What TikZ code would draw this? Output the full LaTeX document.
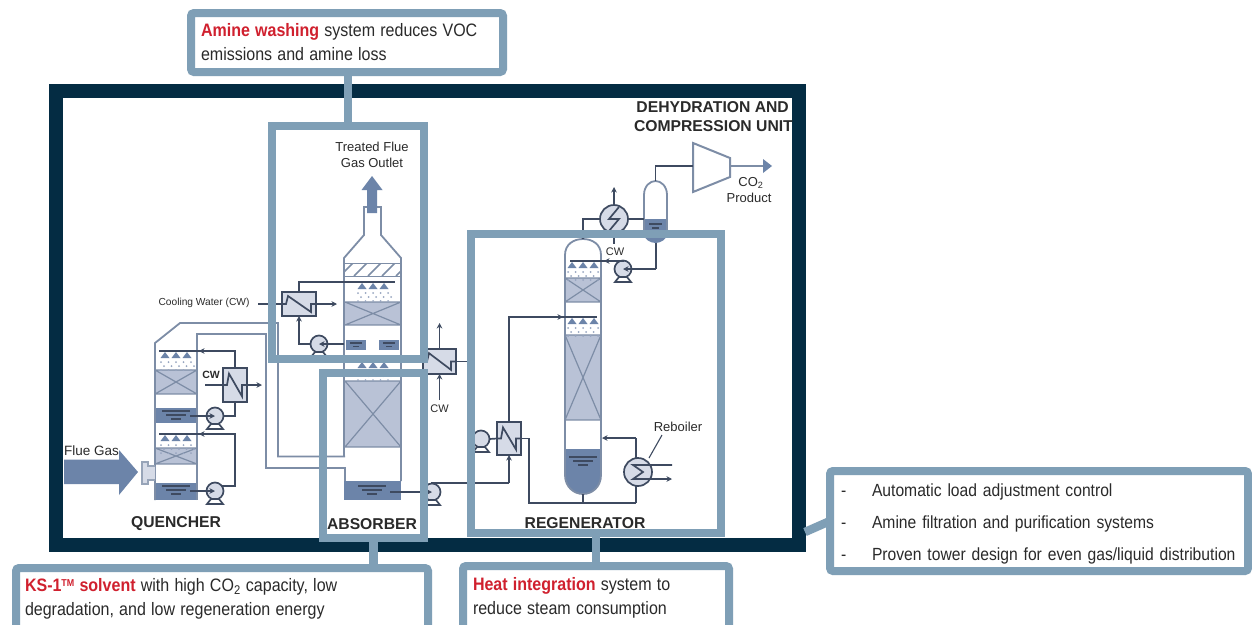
\documentclass[tikz,border=0pt]{standalone}
\usepackage{fontspec}
\setmainfont{Liberation Sans}
\newfontfamily\callfont[FakeStretch=0.89]{Liberation Sans}
\newcommand\tightwords{\spaceskip=5.2pt\relax}
\usetikzlibrary{arrows.meta}
\definecolor{framec}{HTML}{042C43}
\definecolor{tealc}{HTML}{7F9FB6}
\definecolor{packc}{HTML}{B9C2D6}
\definecolor{sumpc}{HTML}{6C84A9}
\definecolor{pipec}{HTML}{3E4A60}
\definecolor{gasc}{HTML}{7D8DA6}
\definecolor{hxc}{HTML}{D6DBE7}
\definecolor{redc}{HTML}{D0202E}
\definecolor{dropc}{HTML}{97A5C0}
\definecolor{textc}{HTML}{2A2A2A}
\tikzset{
  x=1pt,y=-1pt,
  pipe/.style={draw=pipec,line width=1.7pt,line join=miter},
  gas/.style={draw=gasc,line width=1.8pt,line join=miter},
  flow/.style={pipe,-{Stealth[length=5.5pt,width=5.5pt]}},
  hxbox/.style={draw=pipec,line width=1.7pt,fill=hxc,rectangle,inner sep=0pt,outer sep=0pt},
  pumpbox/.style={draw=pipec,line width=1.7pt,fill=hxc,circle,minimum size=17pt,inner sep=0pt,outer sep=0pt},
  reach/.style={draw=tealc,line width=8pt,rectangle,inner sep=0pt,outer sep=0pt},
  tie/.style={draw=tealc,line width=8.5pt},
  callout/.style={draw=tealc,line width=8pt,rectangle,rounded corners=3pt,fill=white,outer sep=0pt,inner ysep=0pt,align=left,text=textc},
  calltext/.style={font=\callfont\fontsize{18}{24}\selectfont},
  unitlabel/.style={font=\bfseries\fontsize{15.7}{19}\selectfont,text=textc,inner sep=0pt,align=center},
  smalllabel/.style={font=\fontsize{13}{16}\selectfont,text=textc,inner sep=0pt,align=center},
  cwlabel/.style={font=\fontsize{11}{13}\selectfont,text=textc,inner sep=0pt},
}
\newcommand\packing[4]{%
  \fill[packc] (#1,#2) rectangle (#3,#4);
  \draw[gas,line width=1.2pt] (#1,#2) -- (#3,#4) (#1,#4) -- (#3,#2) (#1,#2) -- (#3,#2) (#1,#4) -- (#3,#4);}
\newcommand\sumplines[2]{%
  \draw[pipec,line width=1.3pt] ({#1-14},#2) -- ({#1+14},#2) ({#1-10},{#2+4}) -- ({#1+10},{#2+4}) ({#1-5},{#2+8}) -- ({#1+5},{#2+8});}
\newcommand\spray[2]{%
  \foreach \dx in {-11,0,11} \fill[sumpc] ({#1+\dx-4.5},{#2+7}) -- ({#1+\dx},{#2+1}) -- ({#1+\dx+4.5},{#2+7}) -- cycle;
  \foreach \dx in {-15,-7.5,0,7.5,15} {\fill[dropc] ({#1+\dx},{#2+11}) circle[radius=1];\fill[dropc] ({#1+\dx+3},{#2+15}) circle[radius=1];\fill[dropc] ({#1+\dx},{#2+19}) circle[radius=1];}}
\newcommand\pumpat[3]{%
  \node[pumpbox] (#1) at (#2,#3) {};
  \draw[pipe,fill=white] ({#2-8},{#3+13}) -- ({#2-4},{#3+8}) -- ({#2+4},{#3+8}) -- ({#2+8},{#3+13}) -- cycle;}
\newcommand\hxat[5]{%
  \node[hxbox,minimum width=#4pt,minimum height=#5pt] (#1) at (#2,#3) {};
  \draw[pipe] ({#2-#4/2},#3) -- ({#2-#4/2+4},#3) -- ({#2-#4/2+6},{#3-#5/3}) -- ({#2+#4/2-5},{#3+#5/3}) -- ({#2+#4/2-5},#3) -- ({#2+#4/2},#3);}
\begin{document}
\begin{tikzpicture}
\useasboundingbox (0,0) rectangle (1252,624);
\clip (0,0) rectangle (1252,624);
\fill[white] (0,0) rectangle (1252,624);
% frame
\node[draw=framec,line width=14pt,rectangle,minimum width=743pt,minimum height=453.5pt,inner sep=0pt,outer sep=0pt] (frame) at (427.5,317.75) {};

% ---------- QUENCHER
\packing{155}{370}{197}{394}
\packing{155}{448}{197}{464}
\fill[sumpc] (155,408) rectangle (197,423);
\fill[sumpc] (155,483) rectangle (197,500);
\sumplines{176}{411}
\sumplines{176}{486}
\spray{176}{351}
\spray{176}{434}
\draw[gas] (155,500) -- (155,343) -- (180,323) -- (278,323) -- (278,456.5) -- (345,456.5);
\draw[gas] (197,500) -- (197,334) -- (266,334) -- (266,468) -- (345,468) -- (345,481);
\pumpat{pq1}{215}{416}
\pumpat{pq2}{215}{491}
\hxat{hxq}{235}{385}{24}{34}
\draw[flow] (190,416) -- (pq1.center);
\draw[flow] (190,491) -- (pq2.center);
\draw[pipe] (pq1.east) -| (hxq.south);
\draw[pipe] (hxq.north) |- (159,351);
\draw[flow] (205,351) -- (199,351);
\draw[pipe] (222,486) -| (235,434) -- (159,434);
\draw[flow] (205,434) -- (199,434);
\draw[pipe] (205,385) -- (hxq.west);
\draw[flow] (hxq.east) -- (262,385);
\node[cwlabel,font=\fontsize{10.5}{12}\selectfont\bfseries] (cwq) at (211,375) {CW};
% flue gas arrow and flange
\draw[gasc!80!white,line width=1.5pt,fill=hxc] (155,466) -- (148,466) -- (148,462) -- (142,462) -- (142,484) -- (148,484) -- (148,480) -- (155,480);
\fill[sumpc] (64,459.5) -- (119,459.5) -- (119,450) -- (138,472) -- (119,495) -- (119,484) -- (64,484) -- cycle;
\node[smalllabel,font=\fontsize{13.5}{16}\selectfont,anchor=west] (fluegas) at (64,451) {Flue Gas};
\node[unitlabel] (quencher) at (176,524) {QUENCHER};

% ---------- ABSORBER
\packing{345}{302}{401}{325}
\packing{345}{381}{401}{447}
\draw[gas,line width=1pt,fill=white] (344,263) rectangle (401,276);
\begin{scope}
\clip (344,263) rectangle (401,276);
\foreach \hx in {340,354,368,382,396} \draw[gas,line width=1.7pt] (\hx,276) -- ({\hx+13},263);
\end{scope}
\fill[sumpc] (346,340) rectangle (366,350);
\fill[sumpc] (379,340) rectangle (399,350);
\draw[pipec,line width=1.2pt] (350,343) -- (362,343) (353,346.5) -- (359,346.5) (383,343) -- (395,343) (386,346.5) -- (392,346.5);
\fill[sumpc] (344,481) rectangle (401,500);
\sumplines{372}{486}
\spray{373}{282}
\spray{373}{361}
\draw[gas] (344,456.5) -- (344,258) -- (364,235) -- (364,207) -- (381,207) -- (381,235) -- (401,258) -- (401,481);
\fill[sumpc] (367,213) -- (367,190) -- (361.5,190) -- (372,176) -- (382.5,190) -- (377,190) -- (377,213) -- cycle;
\node[smalllabel] (treated) at (372,155) {Treated Flue\\[-0.5pt]Gas Outlet};
\node[cwlabel,font=\fontsize{10.2}{12}\selectfont] (coolwater) at (204,303) {Cooling Water (CW)};
\pumpat{pw}{319}{344}
\hxat{hxw}{299}{304}{34}{24}
\draw[pipe] (hxw.north) -- (299,282) -- (395,282);
\draw[flow] (pw.center) ++(25,0) -- (pw.center);
\draw[flow] (pw.west) -| (hxw.south);
\draw[pipe] (258,304) -- (hxw.west);
\draw[flow] (hxw.east) -- (337,304);
% cross exchanger
\hxat{hxc1}{439.5}{361.5}{33}{25}
\coordinate (cwtop) at (439.5,323);
\coordinate (cwbot) at (439.5,400);
\draw[flow] (hxc1.north) -- (cwtop);
\draw[flow] (cwbot) -- (hxc1.south);
\node[cwlabel] (cwx) at (439.5,409) {CW};
\draw[pipe] (hxc1.east) -- (472,361.5);
% rich pump and line
\pumpat{prich}{432}{492}
\draw[flow] (390,492) -- (prich.center);
\node[unitlabel] (absorber) at (372,524) {ABSORBER};

% ---------- REGENERATOR
\fill[sumpc] (565,449) -- (601,449) -- (601,475) .. controls (601,487) and (592,494) .. (583,494) .. controls (574,494) and (565,487) .. (565,475) -- cycle;
\packing{565}{278}{601}{302}
\packing{565}{335}{601}{420}
\sumplines{583}{457}
\spray{583}{261}
\spray{583}{317}
\draw[gas] (565,255) .. controls (565,244) and (574,239) .. (583,239) .. controls (592,239) and (601,244) .. (601,255) -- (601,475) .. controls (601,487) and (592,494) .. (583,494) .. controls (574,494) and (565,487) .. (565,475) -- cycle;
\pumpat{pr}{623}{269}
\pumpat{prl}{481}{439}
\hxat{hxr}{509}{438.5}{24}{33}
\draw[pipe] (prich.north) |- (509,483);
\draw[flow] (509,483) -- (hxr.south);
\draw[pipe] (prl.east) -- (hxr.west);
\draw[pipe] (hxr.north) |- (597,317);
\draw[flow] (553,317) -- (563,317);
\draw[pipe] (hxr.east) -- (529,438.5) |- (636,503);
\draw[pipe] (583,494) -- (583,503);
\node[hxbox,circle,minimum size=28pt] (reb) at (638,472) {};
\draw[pipe] (636,503) -- (636,486);
\draw[pipe] (636,458) -- (636,438);
\draw[flow] (636,438) -- (602,438);
\coordinate (rebin) at (672,465);
\coordinate (rebout) at (672,479);
\draw[pipe] (rebin) -- (633,465) -- (643,472) -- (633,479) -- (655,479);
\draw[flow] (650,479) -- (rebout);
\node[smalllabel] (rebl) at (678,427) {Reboiler};
\draw[pipe,line width=1.1pt] (649,458) -- (662,435);
\node[unitlabel] (regen) at (585,523) {REGENERATOR};

% ---------- DEHYDRATION
\fill[sumpc] (644,219) -- (667,219) -- (667,234) .. controls (667,239) and (661,243) .. (655.5,243) .. controls (650,243) and (644,239) .. (644,234) -- cycle;
\draw[pipec,line width=1.2pt] (649,224) -- (662,224) (652,228) -- (659,228);
\draw[gas] (644,234) -- (644,195) .. controls (644,186) and (650,181) .. (655.5,181) .. controls (661,181) and (667,186) .. (667,195) -- (667,234);
\node[hxbox,circle,minimum size=28pt,fill=hxc] (cond) at (614,219) {};
\draw[pipe] (619,207) -- (609,219) -- (619,219) -- (609,231);
\draw[pipe] (583,239) -- (583,219) -- (cond.west);
\draw[pipe] (cond.east) -- (644,219);
\draw[flow] (cond.north) -- (614,187);
\draw[pipe] (cond.south) -- (614,244);
\node[cwlabel] (cwc) at (615,252) {CW};
\draw[pipe] (656,243) -- (656,269);
\draw[flow] (656,269) -- (pr.center);
\draw[pipe] (pr.north) -- (623,261) -- (570,261);
\draw[flow] (612,261) -- (604,261);
\coordinate (comp) at (693,166);
\draw[gas,line width=2pt,fill=white] (693,143) -- (730,158) -- (730,177) -- (693,192) -- cycle;
\draw[pipe] (655.5,181) -- (655.5,166) -- (comp);
\draw[gas,line width=2pt] (730,166) -- (763,166);
\fill[sumpc] (763,159) -- (772,166) -- (763,173) -- cycle;
\node[smalllabel] (co2) at (751,183) {CO\textsubscript{2}};
\node[smalllabel] (product) at (749,198) {Product};
\node[unitlabel,anchor=east] (dehy1) at (789,107) {DEHYDRATION AND};
\node[unitlabel,anchor=east] (dehy2) at (793,126) {COMPRESSION UNIT};

% ---------- coloured reach boxes
\node[reach,minimum width=152pt,minimum height=233pt] (washbox) at (348,242.5) {};
\node[reach,minimum width=101pt,minimum height=165pt] (absbox) at (373.5,455.5) {};
\node[reach,minimum width=250pt,minimum height=299pt] (regbox) at (596,383.5) {};

% ---------- callouts
\coordinate (frametie) at (805,532);
\node[callout,calltext,minimum width=312pt,minimum height=59pt,text width=292pt,inner xsep=10pt] (amine) at (347,42.5) {\tightwords{\color{redc}\bfseries Amine washing} system reduces VOC\\emissions and amine loss};
\node[callout,calltext,minimum width=412pt,minimum height=62pt,text width=394pt,inner xsep=9pt] (ks) at (222,599) {\tightwords{\color{redc}\bfseries KS-1\raisebox{5pt}{\fontsize{10}{10}\selectfont TM} solvent} with high CO\textsubscript{2} capacity, low\\degradation, and low regeneration energy};
\node[callout,calltext,minimum width=266pt,minimum height=64pt,text width=246pt,inner xsep=10pt] (heat) at (596,598) {\tightwords{\color{redc}\bfseries Heat integration} system to\\reduce steam consumption};
\node[callout,minimum width=418pt,minimum height=100pt,text width=396pt,inner xsep=11pt,font=\callfont\fontsize{17.6}{32}\selectfont] (load) at (1039,521) {\rule{0pt}{19pt}\makebox[31pt][l]{-}Automatic load adjustment control\\\makebox[31pt][l]{-}Amine filtration and purification systems\\\makebox[31pt][l]{-}Proven tower design for even gas/liquid distribution};
\draw[tie] (amine.south -| washbox.north) -- (washbox.north);
\draw[tie] (absbox.south) -- (ks.north -| absbox.south);
\draw[tie] (regbox.south) -- (heat.north);
\draw[tie] (frametie) -- (load.west);
\end{tikzpicture}
\end{document}
